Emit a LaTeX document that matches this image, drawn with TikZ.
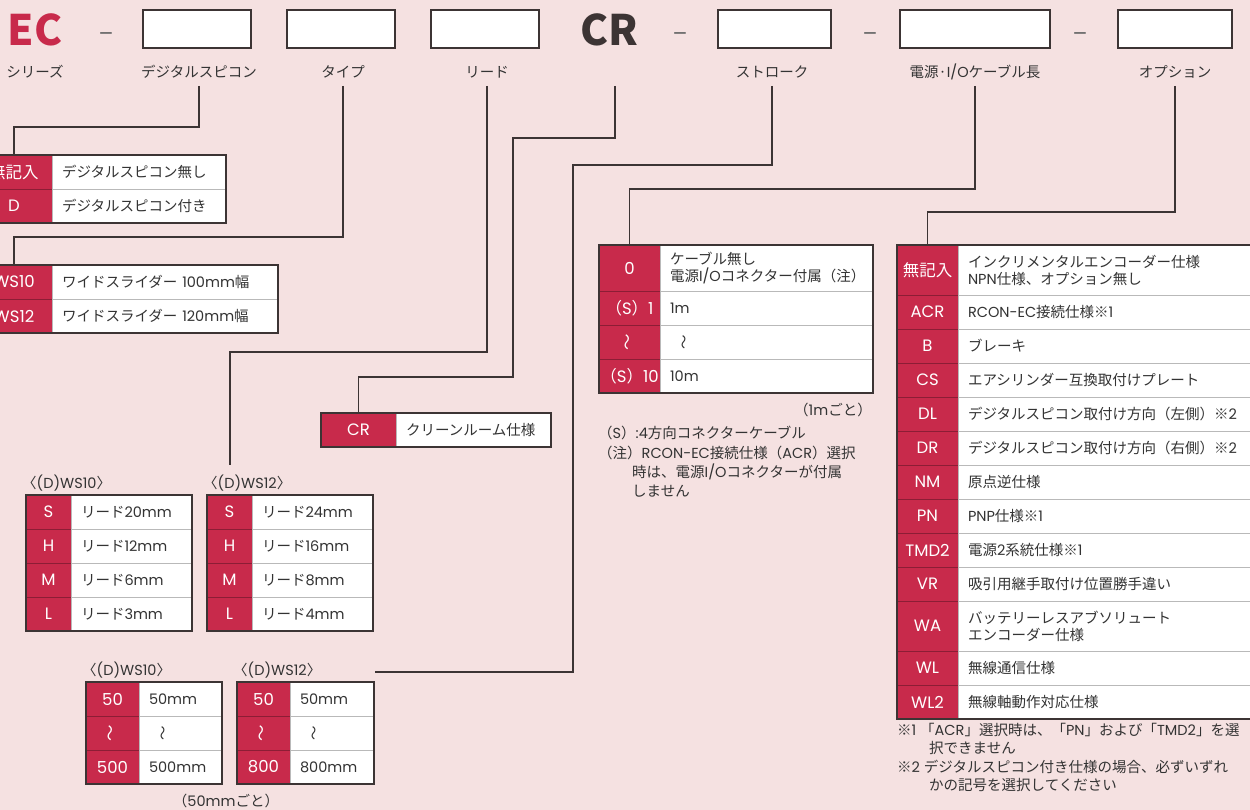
\documentclass[tikz,border=0pt]{standalone}
\usepackage{fontspec}
\usepackage{graphicx}
\setmainfont{Poppins}
\newfontfamily\latf{Poppins}
\newfontfamily\cjkf{Noto Sans CJK JP}
% switch to the Japanese font for CJK characters
\XeTeXinterchartokenstate=1
\chardef\CJKcls=7
\newcount\ccnt
\def\setcls#1#2{\ccnt=#1\relax\loop\XeTeXcharclass\ccnt=\CJKcls\relax\ifnum\ccnt<#2\relax\advance\ccnt by 1\relax\repeat}
\setcls{"3000}{"30FF}
\setcls{"4E00}{"9FFF}
\setcls{"FF00}{"FFEF}
\XeTeXcharclass"203B=\CJKcls
\XeTeXcharclass"00B7=\CJKcls
\XeTeXinterchartoks 0 \CJKcls = {\cjkf}
\XeTeXinterchartoks 4095 \CJKcls = {\cjkf}
\XeTeXinterchartoks \CJKcls 0 = {\latf}
\XeTeXinterchartoks \CJKcls 4095 = {\latf}
\definecolor{bg}{HTML}{F5E1E1}
\definecolor{ired}{HTML}{C82A4B}
\definecolor{ln}{HTML}{3C3434}
\definecolor{txt}{HTML}{333333}
\newcommand\tabfont{\fontsize{14.5}{17}\selectfont}
\newcommand\redfont{\fontsize{16.5}{18}\selectfont}
\newcommand\hdfont{\fontsize{14.5}{17}\selectfont}
\newcommand\wv{\rotatebox{90}{〜}}
\newcommand{\crow}[8]{%
 \pgfmathsetmacro\rw{(#3)-(#2)}%
 \pgfmathsetmacro\ww{(#4)-(#3)-20}%
 \pgfmathsetmacro\rh{(#6)-(#5)}%
 \node[redc, minimum width=\rw pt, minimum height=\rh pt] (#1c) at ({((#2)+(#3))/2},{((#5)+(#6))/2}) {#7};
 \node[whc, minimum height=\rh pt, text width=\ww pt] (#1d) at ({((#3)+(#4))/2},{((#5)+(#6))/2}) {#8};
}
\tikzset{
 conn/.style={draw=ln, line width=1.4pt},
 hbox/.style={draw=ln, fill=white, line width=1.4pt, minimum height=38pt, inner sep=0pt},
 redc/.style={fill=ired, draw=ired!70!black, line width=0.8pt, text=white, inner sep=0pt, font=\redfont},
 whc/.style={fill=white, draw=gray!55, line width=0.8pt, text=txt, inner xsep=10pt, inner ysep=0pt, align=left, font=\tabfont},
 tframe/.style={draw=ln, line width=1.4pt},
 hlbl/.style={text=txt, font=\hdfont, inner sep=1pt},
 note/.style={text=txt, font=\tabfont, inner sep=0pt, anchor=west},
 dashmark/.style={text=gray!80!black, font=\fontsize{22}{22}\selectfont, inner sep=0pt},
}
\begin{document}
\begin{tikzpicture}[x=1pt,y=-1pt]
\useasboundingbox (0,0) rectangle (1250,810);
\fill[bg] (0,0) rectangle (1250,810);
\clip (0,0) rectangle (1250,810);
% ---------- header ----------
\node[text=ired, font=\fontsize{42}{42}\selectfont\cjkf\bfseries, inner sep=0pt] (tEC) at (35,30) {EC};
\node[text=ln, font=\fontsize{42}{42}\selectfont\cjkf\bfseries, inner sep=0pt] (tCR) at (609,30) {CR};
\node[dashmark] (d1) at (106,37) {–};
\node[dashmark] (d2) at (680,37) {–};
\node[dashmark] (d3) at (870,37) {–};
\node[dashmark] (d4) at (1080,37) {–};
\node[hbox, minimum width=108pt] (b1) at (197,29) {};
\node[hbox, minimum width=108pt] (b2) at (341,29) {};
\node[hbox, minimum width=108pt] (b3) at (485,29) {};
\node[hbox, minimum width=113pt] (b4) at (774.5,29) {};
\node[hbox, minimum width=150pt] (b5) at (975,29) {};
\node[hbox, minimum width=114pt] (b6) at (1175,29) {};
\node[hlbl] (lSer) at (35,72) {シリーズ};
\node[hlbl] (lDS) at (199,72) {デジタルスピコン};
\node[hlbl] (lTy) at (343,72) {タイプ};
\node[hlbl] (lLd) at (487,72) {リード};
\node[hlbl] (lSt) at (772,72) {ストローク};
\node[hlbl] (lCb) at (975,72) {電源·I/Oケーブル長};
\node[hlbl] (lOp) at (1175,72) {オプション};
% ---------- tables ----------
% digital speed controller
\crow{dsA}{-24}{52}{226}{155}{189}{無記入}{デジタルスピコン無し}
\crow{dsB}{-24}{52}{226}{189}{223}{D}{デジタルスピコン付き}
\draw[tframe] (-24,155) rectangle (226,223);
% type
\crow{tyA}{-24}{52}{278}{265}{299}{WS10}{ワイドスライダー 100mm幅}
\crow{tyB}{-24}{52}{278}{299}{333}{WS12}{ワイドスライダー 120mm幅}
\draw[tframe] (-24,265) rectangle (278,333);
% lead
\node[note, anchor=west] (ldL1) at (22,483) {〈(D)WS10〉};
\node[note, anchor=west] (ldL2) at (203,483) {〈(D)WS12〉};
\crow{laS}{26}{71}{192}{495}{529}{S}{リード20mm}
\crow{laH}{26}{71}{192}{529}{563}{H}{リード12mm}
\crow{laM}{26}{71}{192}{563}{597}{M}{リード6mm}
\crow{laL}{26}{71}{192}{597}{631}{L}{リード3mm}
\draw[tframe] (26,495) rectangle (192,631);
\crow{lbS}{207}{252}{373}{495}{529}{S}{リード24mm}
\crow{lbH}{207}{252}{373}{529}{563}{H}{リード16mm}
\crow{lbM}{207}{252}{373}{563}{597}{M}{リード8mm}
\crow{lbL}{207}{252}{373}{597}{631}{L}{リード4mm}
\draw[tframe] (207,495) rectangle (373,631);
% stroke
\node[note, anchor=west] (stL1) at (82,670) {〈(D)WS10〉};
\node[note, anchor=west] (stL2) at (233,670) {〈(D)WS12〉};
\crow{saA}{86}{139}{222}{682}{716}{50}{50mm}
\crow{saB}{86}{139}{222}{716}{750}{\wv}{\hspace{12pt}\wv}
\crow{saC}{86}{139}{222}{750}{784}{500}{500mm}
\draw[tframe] (86,682) rectangle (222,784);
\crow{sbA}{237}{290}{374}{682}{716}{50}{50mm}
\crow{sbB}{237}{290}{374}{716}{750}{\wv}{\hspace{12pt}\wv}
\crow{sbC}{237}{290}{374}{750}{784}{800}{800mm}
\draw[tframe] (237,682) rectangle (374,784);
\node[note, anchor=center] (stN) at (226,801) {（50mmごと）};
% clean room
\crow{crA}{321}{396}{551}{413}{447}{CR}{クリーンルーム仕様}
\draw[tframe] (321,413) rectangle (551,447);
% cable
\crow{cbA}{599}{660}{873}{245}{291}{0}{ケーブル無し\\電源I/Oコネクター付属（注）}
\crow{cbB}{599}{660}{873}{291}{325}{（S）1}{1m}
\crow{cbC}{599}{660}{873}{325}{359}{\wv}{\hspace{12pt}\wv}
\crow{cbD}{599}{660}{873}{359}{393}{（S）10}{10m}
\draw[tframe] (599,245) rectangle (873,393);
\node[note, anchor=east] (cbN) at (872,410) {（1mごと）};
\node[note] (cbN1) at (598,433) {（S）:4方向コネクターケーブル};
\node[note] (cbN2) at (598,453) {（注）RCON-EC接続仕様（ACR）選択};
\node[note] (cbN3) at (632,472) {時は、電源I/Oコネクターが付属};
\node[note] (cbN4) at (632,491) {しません};
% option
\crow{opA}{897}{958}{1262}{245}{295}{無記入}{インクリメンタルエンコーダー仕様\\NPN仕様、オプション無し}
\crow{opB}{897}{958}{1262}{295}{329}{ACR}{RCON-EC接続仕様※1}
\crow{opC}{897}{958}{1262}{329}{363}{B}{ブレーキ}
\crow{opD}{897}{958}{1262}{363}{397}{CS}{エアシリンダー互換取付けプレート}
\crow{opE}{897}{958}{1262}{397}{431}{DL}{デジタルスピコン取付け方向（左側）※2}
\crow{opF}{897}{958}{1262}{431}{465}{DR}{デジタルスピコン取付け方向（右側）※2}
\crow{opG}{897}{958}{1262}{465}{499}{NM}{原点逆仕様}
\crow{opH}{897}{958}{1262}{499}{533}{PN}{PNP仕様※1}
\crow{opI}{897}{958}{1262}{533}{567}{TMD2}{電源2系統仕様※1}
\crow{opJ}{897}{958}{1262}{567}{601}{VR}{吸引用継手取付け位置勝手違い}
\crow{opK}{897}{958}{1262}{601}{651}{WA}{バッテリーレスアブソリュート\\エンコーダー仕様}
\crow{opL}{897}{958}{1262}{651}{685}{WL}{無線通信仕様}
\crow{opM}{897}{958}{1262}{685}{719}{WL2}{無線軸動作対応仕様}
\draw[tframe] (897,245) rectangle (1262,719);
\node[note] (opN1) at (897,730) {※1\ 「ACR」選択時は、「PN」および「TMD2」を選};
\node[note] (opN2) at (929,748) {択できません};
\node[note] (opN3) at (897,767) {※2 デジタルスピコン付き仕様の場合、必ずいずれ};
\node[note] (opN4) at (929,785) {かの記号を選択してください};
% ---------- connectors ----------
\coordinate (y86) at (0,86);
\coordinate (crTop) at (615,86);
\coordinate (crBend) at (513,377);
\coordinate (ldEnd) at (230,465);
\coordinate (stBend) at (573,672);
\coordinate (stEnd) at (375,672);
\draw[conn] (lDS |- y86) -- ++(0,41) -| (dsAc.north);
\draw[conn] (lTy |- y86) -- ++(0,151) -| (tyAc.north);
\draw[conn] (lLd |- y86) -- ++(0,266) -| (ldEnd);
\draw[conn] (crTop) -- ++(0,52) -| (crBend) -| (crAc.north);
\draw[conn] (lSt |- y86) -- ++(0,79) -| (stBend) -- (stEnd);
\draw[conn] (lCb |- y86) -- ++(0,103) -| (cbAc.north);
\draw[conn] (lOp |- y86) -- ++(0,126) -| (opAc.north);
\end{tikzpicture}
\end{document}
